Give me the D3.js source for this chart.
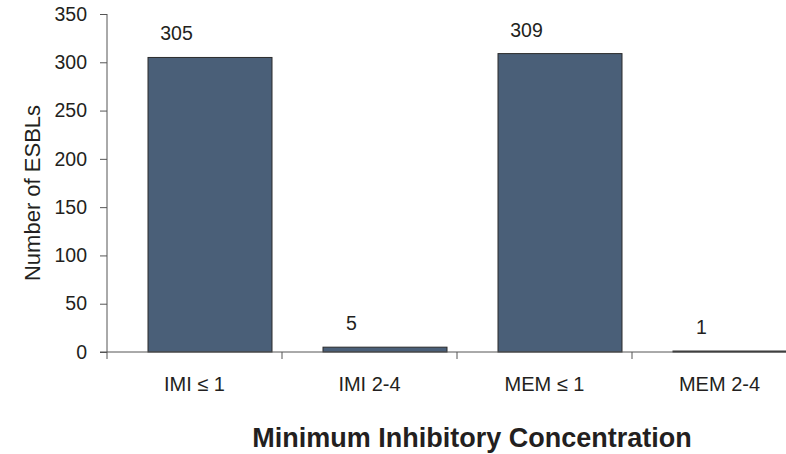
<!DOCTYPE html>
<html>
<head>
<meta charset="utf-8">
<script src="https://cdn.jsdelivr.net/npm/d3@7"></script>
<style>
body { margin: 0; background: #fff; }
svg text { font-family: "Liberation Sans", Arial, sans-serif; fill: #231f20; }
</style>
</head>
<body>
<div id="chart"></div>
<script>
// data
var categories = ["IMI \u2264 1", "IMI 2-4", "MEM \u2264 1", "MEM 2-4"];
var counts = [305, 5, 309, 1];
var yTicks = [0, 50, 100, 150, 200, 250, 300, 350];

var width = 786, height = 454;
var margin = {left: 107, top: 14, bottom: 102};
var step = 175; // category width in px

var svg = d3.select("#chart").append("svg")
	.attr("width", width)
	.attr("height", height);

var x = d3.scaleBand()
	.domain(categories)
	.range([margin.left, margin.left + step * categories.length])
	.paddingInner(0).paddingOuter(0);

var y = d3.scaleLinear()
	.domain([0, 350])
	.range([height - margin.bottom, margin.top]);

//bars, shifted a bit right of the middle like the original
var barW = 124;
var barOff = 41;
svg.append("g").selectAll("rect")
	.data(counts)
	.enter().append("rect")
		.attr("x", function(d, i){ return x(categories[i]) + barOff; })
		.attr("y", function(d){ return y(d); })
		.attr("width", barW)
		.attr("height", function(d){ return y(0) - y(d); })
		.attr("fill", "#4a5f78")
		.attr("stroke", "#2b2b2b")
		.attr("stroke-width", 1);

//value labels
svg.append("g").selectAll("text")
	.data(counts)
	.enter().append("text")
		.attr("x", function(d, i){ return x(categories[i]) + x.bandwidth() / 2 - 18; })
		.attr("y", function(d){ return y(d) - 17; })
		.attr("text-anchor", "middle")
		.style("font-size", "19.5px")
		.text(function(d){ return d; });

//y axis
var yAxis = d3.axisLeft(y).tickValues(yTicks).tickSize(7).tickPadding(13);
var gy = svg.append("g")
	.attr("transform", "translate(" + margin.left + ",0)")
	.call(yAxis);
gy.select(".domain").attr("stroke", "#555").attr("d", "M0," + y(350) + "V" + y(0));
gy.selectAll(".tick line").attr("stroke", "#555");
gy.selectAll(".tick text").style("font-size", "19.5px").attr("fill", "#231f20");

//x axis
var xAxis = d3.axisBottom(x).tickSize(0).tickPadding(25);
var gx = svg.append("g")
	.attr("transform", "translate(0," + y(0) + ")")
	.call(xAxis);
gx.select(".domain").attr("stroke", "#555").attr("d", "M" + (margin.left - 7) + ",0H" + (margin.left + step * categories.length));
gx.selectAll(".tick text").style("font-size", "20px").attr("fill", "#231f20");

//category separators
gx.selectAll(".sep")
	.data(categories.concat(["end"]))
	.enter().append("line")
		.attr("class", "sep")
		.attr("x1", function(d, i){ return margin.left + step * i; })
		.attr("x2", function(d, i){ return margin.left + step * i; })
		.attr("y1", 0).attr("y2", 7)
		.attr("stroke", "#555");

//axis titles
svg.append("text")
	.attr("transform", "translate(40," + (y(175) + 10) + ") rotate(-90)")
	.attr("text-anchor", "middle")
	.style("font-size", "22px")
	.text("Number of ESBLs");

svg.append("text")
	.attr("x", 472)
	.attr("y", 447)
	.attr("text-anchor", "middle")
	.style("font-size", "27px")
	.style("font-weight", "bold")
	.text("Minimum Inhibitory Concentration");
</script>
</body>
</html>
